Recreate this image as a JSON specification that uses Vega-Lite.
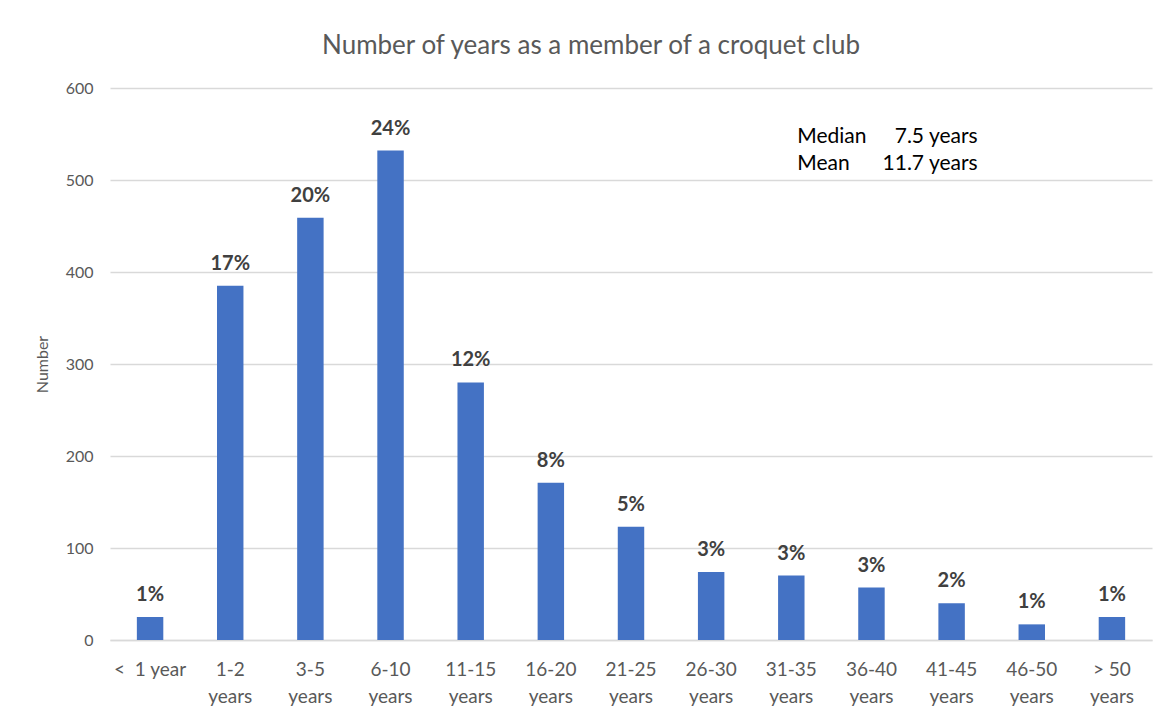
{
  "$schema": "https://vega.github.io/schema/vega-lite/v6.json",
  "width": 1042,
  "height": 552,
  "autosize": {"type": "none"},
  "padding": {"left": 110, "top": 88, "right": 11, "bottom": 75},
  "background": "white",
  "title": {
    "text": "Number of years as a member of a croquet club",
    "font": "Lato",
    "fontSize": 26,
    "fontWeight": "normal",
    "color": "#595959",
    "anchor": "middle",
    "baseline": "alphabetic",
    "offset": 0,
    "dx": -40
  },
  "config": {
    "view": {"stroke": null},
    "font": "Lato"
  },
  "data": {
    "values": [
      {"category": "< 1 year", "number": 25, "pct": "1%"},
      {"category": "1-2 years", "number": 385, "pct": "17%"},
      {"category": "3-5 years", "number": 459, "pct": "20%"},
      {"category": "6-10 years", "number": 532, "pct": "24%"},
      {"category": "11-15 years", "number": 280, "pct": "12%"},
      {"category": "16-20 years", "number": 171, "pct": "8%"},
      {"category": "21-25 years", "number": 123, "pct": "5%"},
      {"category": "26-30 years", "number": 74, "pct": "3%"},
      {"category": "31-35 years", "number": 70, "pct": "3%"},
      {"category": "36-40 years", "number": 57, "pct": "3%"},
      {"category": "41-45 years", "number": 40, "pct": "2%"},
      {"category": "46-50 years", "number": 17, "pct": "1%"},
      {"category": "> 50 years", "number": 25, "pct": "1%"}
    ]
  },
  "layer": [
    {
      "mark": {"type": "bar", "color": "#4472C4"},
      "encoding": {
        "x": {
          "field": "category",
          "type": "nominal",
          "sort": null,
          "scale": {"paddingInner": 0.67, "paddingOuter": 0.335},
          "axis": {
            "title": null,
            "labelAngle": 0,
            "labelFontSize": 19,
            "labelColor": "#595959",
            "labelPadding": 20,
            "labelBaseline": "top",
            "labelLineHeight": 27,
            "ticks": false,
            "grid": false,
            "domainColor": "#d9d9d9",
            "domainWidth": 1.5,
            "labelExpr": "datum.value == '< 1 year' ? '<\u00a0 1 year' : [slice(datum.value, 0, indexof(datum.value, ' years')), 'years']"
          }
        },
        "y": {
          "field": "number",
          "type": "quantitative",
          "scale": {"domain": [0, 600]},
          "axis": {
            "values": [0, 100, 200, 300, 400, 500, 600],
            "title": "Number",
            "titleFontSize": 16,
            "titleFontWeight": "normal",
            "titleColor": "#595959",
            "titlePadding": 15,
            "labelFontSize": 16,
            "labelColor": "#595959",
            "labelPadding": 17,
            "ticks": false,
            "domain": false,
            "gridColor": "#d9d9d9",
            "gridWidth": 1.3
          }
        }
      }
    },
    {
      "mark": {"type": "text", "dy": -16, "fontWeight": "bold", "fontSize": 20, "color": "#404040", "baseline": "alphabetic"},
      "encoding": {
        "x": {"field": "category", "type": "nominal", "sort": null},
        "y": {"field": "number", "type": "quantitative"},
        "text": {"field": "pct"}
      }
    },
    {
      "data": {"values": [{"t": "Median"}]},
      "mark": {"type": "text", "align": "left", "baseline": "middle", "fontSize": 21, "color": "#000000", "dx": 6},
      "encoding": {"x": {"datum": "31-35 years"}, "y": {"datum": 547}, "text": {"field": "t"}}
    },
    {
      "data": {"values": [{"t": "7.5 years"}]},
      "mark": {"type": "text", "align": "right", "baseline": "middle", "fontSize": 21, "color": "#000000", "dx": 26},
      "encoding": {"x": {"datum": "41-45 years"}, "y": {"datum": 547}, "text": {"field": "t"}}
    },
    {
      "data": {"values": [{"t": "Mean"}]},
      "mark": {"type": "text", "align": "left", "baseline": "middle", "fontSize": 21, "color": "#000000", "dx": 6},
      "encoding": {"x": {"datum": "31-35 years"}, "y": {"datum": 517}, "text": {"field": "t"}}
    },
    {
      "data": {"values": [{"t": "11.7 years"}]},
      "mark": {"type": "text", "align": "right", "baseline": "middle", "fontSize": 21, "color": "#000000", "dx": 26},
      "encoding": {"x": {"datum": "41-45 years"}, "y": {"datum": 517}, "text": {"field": "t"}}
    }
  ]
}
